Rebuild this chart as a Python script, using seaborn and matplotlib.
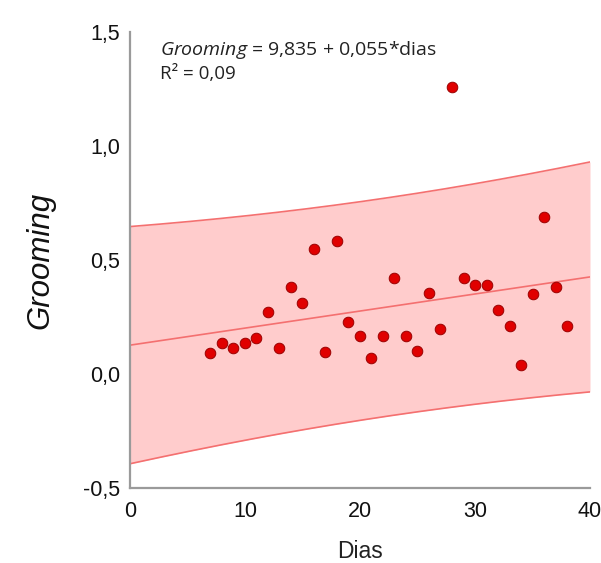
import numpy as np
import pandas as pd
import seaborn as sns
import matplotlib
matplotlib.use("Agg")
import matplotlib.pyplot as plt

# Daily grooming observations
dias = [7, 8, 9, 10, 11, 12, 13, 14, 15, 16, 17, 18, 19, 20, 21, 22,
        23, 24, 25, 26, 27, 28, 29, 30, 31, 32, 33, 34, 35, 36, 37, 38]
grooming = [0.092, 0.136, 0.114, 0.136, 0.158, 0.270, 0.114, 0.382,
            0.313, 0.550, 0.098, 0.583, 0.228, 0.167, 0.068, 0.167,
            0.420, 0.167, 0.100, 0.355, 0.197, 1.259, 0.420, 0.390,
            0.390, 0.280, 0.210, 0.040, 0.350, 0.690, 0.380, 0.210]

x_ticks = [0, 10, 20, 30, 40]
y_ticks = [-0.5, 0.0, 0.5, 1.0, 1.5]
y_tick_labels = ["-0,5", "0,0", "0,5", "1,0", "1,5"]
equation_label = r"$\it{Grooming}$ = 9,835 + 0,055*dias"
r2_label = "R² = 0,09"
T_975_DF30 = 2.042  # Student t quantile for the 95% prediction band

df = pd.DataFrame({"Dias": dias, "Grooming": grooming})

# Ordinary least squares fit and 95% prediction interval
x = np.asarray(dias, float)
y = np.asarray(grooming, float)
n = len(x)
xm, ym = x.mean(), y.mean()
sxx = ((x - xm) ** 2).sum()
slope = ((x - xm) * (y - ym)).sum() / sxx
intercept = ym - slope * xm
resid = y - (intercept + slope * x)
s = np.sqrt((resid ** 2).sum() / (n - 2))

xg = np.linspace(0, 40, 200)
fit = intercept + slope * xg
half = T_975_DF30 * s * np.sqrt(1 + 1 / n + (xg - xm) ** 2 / sxx)
band = pd.DataFrame({"Dias": xg, "fit": fit, "lo": fit - half, "hi": fit + half})

sns.set_style("white")
plt.rcParams["font.family"] = ["Liberation Sans", "DejaVu Sans"]
plt.rcParams["mathtext.fontset"] = "custom"
plt.rcParams["mathtext.it"] = "Open Sans:italic"
plt.rcParams["mathtext.rm"] = "Open Sans"

fig = plt.figure(figsize=(6.01, 5.63), dpi=100)
ax = fig.add_axes([0.2163, 0.1332, 0.7654, 0.81])

line_red = "#f47070"
ax.fill_between(band["Dias"], band["lo"], band["hi"], color="#ffcccc", lw=0, zorder=1)
sns.lineplot(data=band, x="Dias", y="hi", ax=ax, color=line_red, lw=1.2, zorder=2)
sns.lineplot(data=band, x="Dias", y="lo", ax=ax, color=line_red, lw=1.2, zorder=2)
sns.lineplot(data=band, x="Dias", y="fit", ax=ax, color=line_red, lw=1.2, zorder=2)
sns.scatterplot(data=df, x="Dias", y="Grooming", ax=ax, s=58, color="#e00000",
                edgecolor="#9a0000", linewidth=0.7, zorder=3)

ax.set_xlim(0, 40)
ax.set_ylim(-0.5, 1.5)
ax.set_xticks(x_ticks)
ax.set_yticks(y_ticks)
ax.set_yticklabels(y_tick_labels)

for side in ("top", "right"):
    ax.spines[side].set_visible(False)
for side in ("left", "bottom"):
    ax.spines[side].set_color("#9a9a9a")
    ax.spines[side].set_linewidth(1.6)
ax.tick_params(axis="both", which="major", direction="out", length=5, width=1.4,
               color="#9a9a9a", labelsize=15.5, labelcolor="#111111", pad=2)
ax.tick_params(axis="x", pad=4)

ax.set_xlabel("Dias", fontsize=16.5, color="#222222", labelpad=13)
ax.set_ylabel("Grooming", fontsize=22.5, style="italic", color="#111111", labelpad=20)

ax.text(0.065, 0.985, equation_label, transform=ax.transAxes, fontsize=14,
        family=["Open Sans", "DejaVu Sans"], color="#222222", va="top", ha="left")
ax.text(0.065, 0.928, r2_label, transform=ax.transAxes, fontsize=13.5,
        family=["Open Sans", "DejaVu Sans"], color="#222222", va="top", ha="left")

fig.savefig("out.png", dpi=100, facecolor="white")
